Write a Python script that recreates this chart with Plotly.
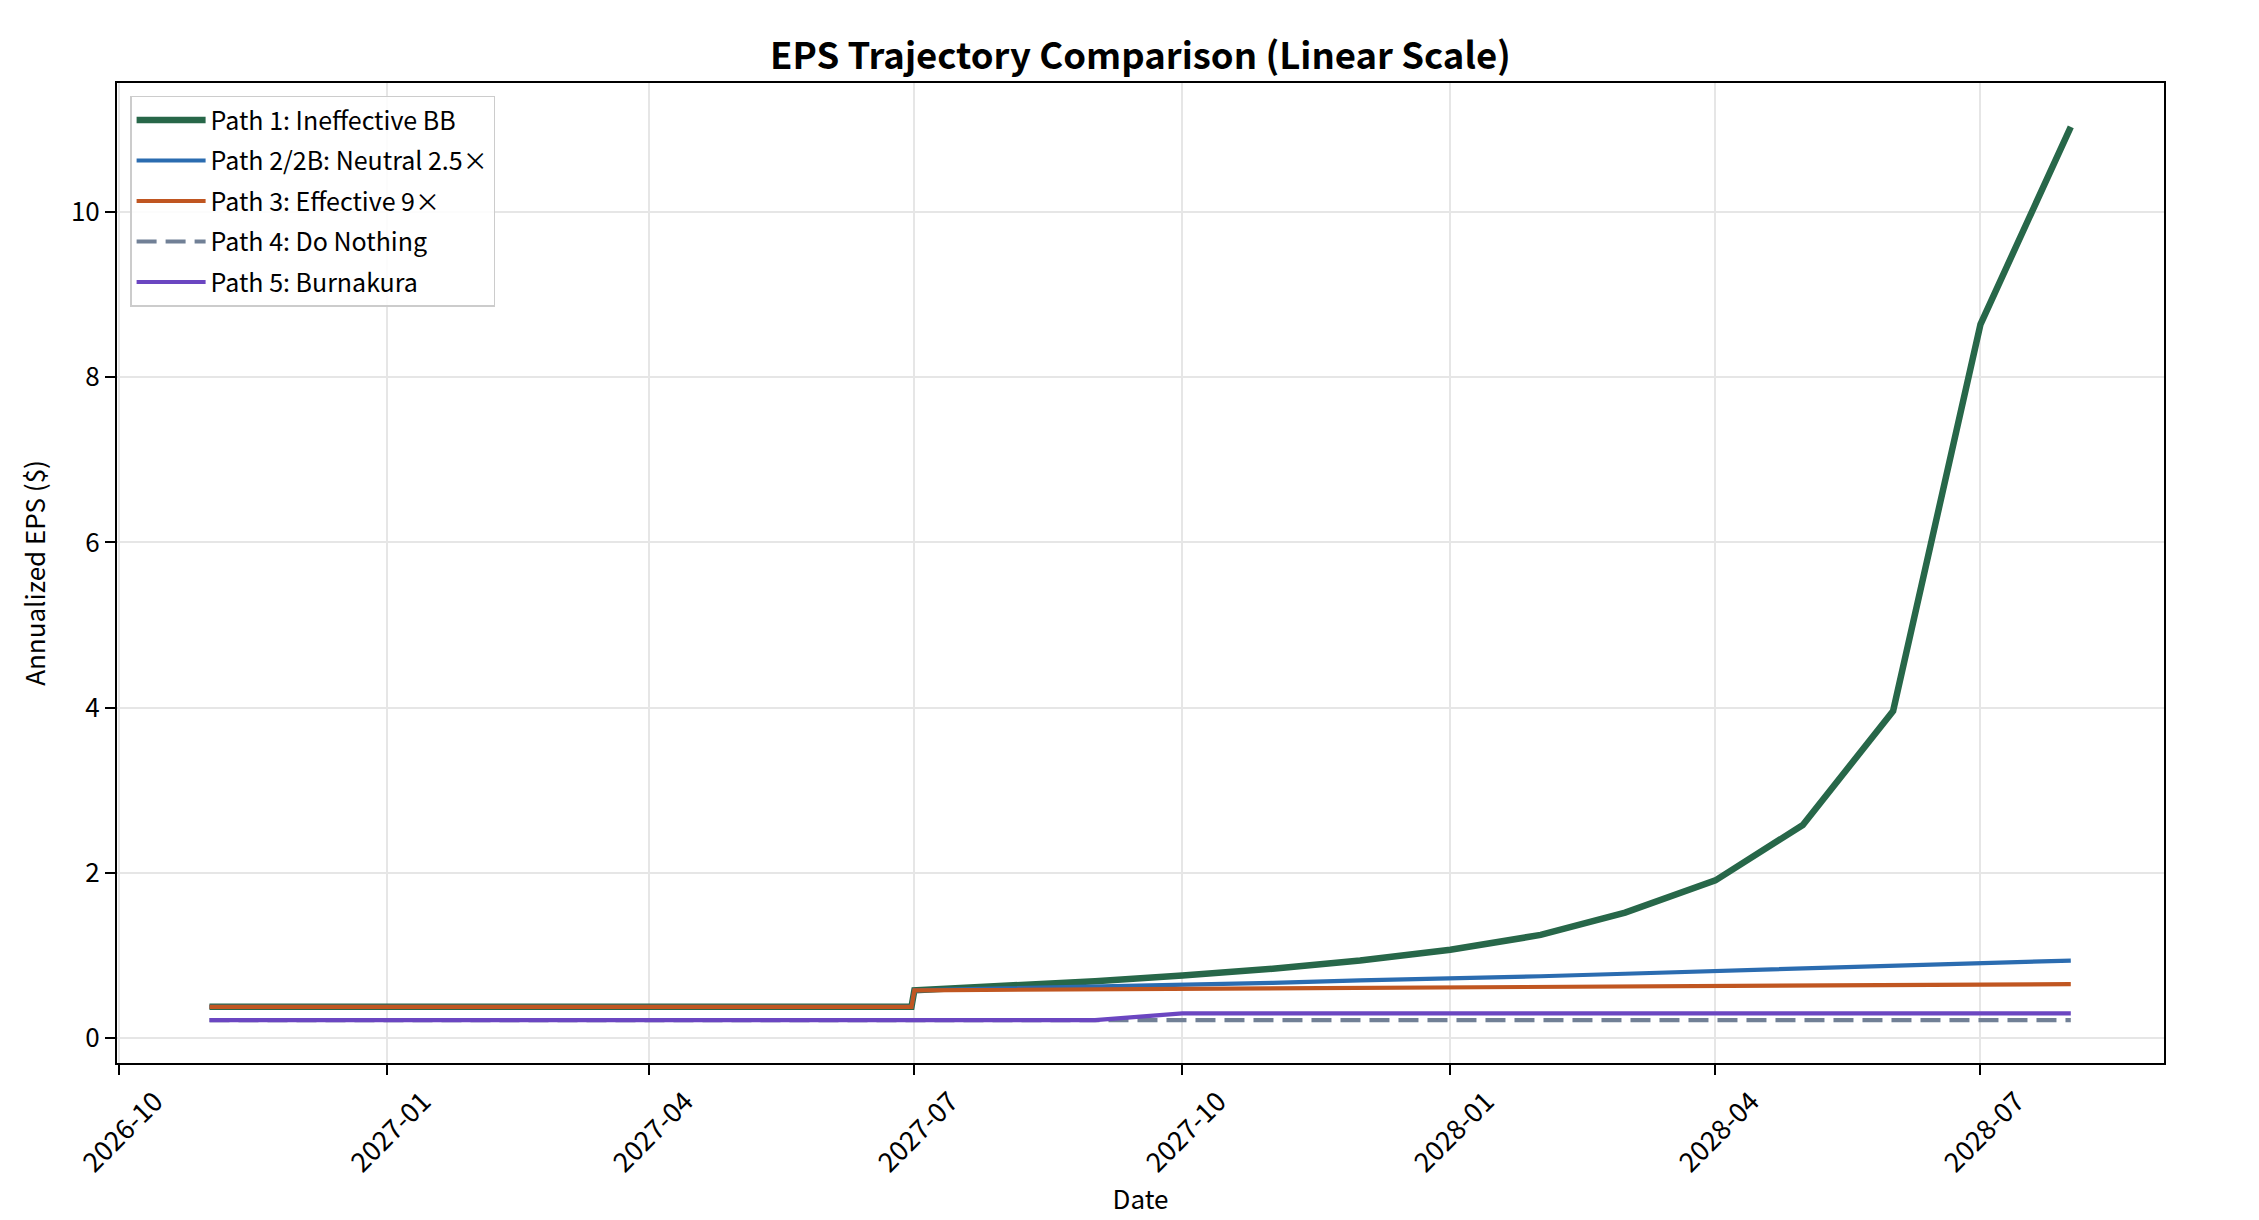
import plotly.graph_objects as go

# ---- data ----
dates = [
    "2026-11-01", "2026-12-01", "2027-01-01", "2027-02-01", "2027-03-01",
    "2027-04-01", "2027-05-01", "2027-06-01", "2027-06-30",
    "2027-07-01", "2027-08-01", "2027-09-01", "2027-10-01", "2027-11-01",
    "2027-12-01", "2028-01-01", "2028-02-01", "2028-03-01", "2028-04-01",
    "2028-05-01", "2028-06-01", "2028-07-01", "2028-08-01",
]

path1 = [0.38, 0.38, 0.38, 0.38, 0.38, 0.38, 0.38, 0.38, 0.38,
         0.58, 0.63, 0.69, 0.76, 0.84, 0.94, 1.07, 1.25, 1.52, 1.91,
         2.58, 3.96, 8.64, 11.03]
path2 = [0.38, 0.38, 0.38, 0.38, 0.38, 0.38, 0.38, 0.38, 0.38,
         0.58, 0.60, 0.62, 0.65, 0.67, 0.70, 0.72, 0.75, 0.78, 0.81,
         0.84, 0.87, 0.90, 0.94]
path3 = [0.38, 0.38, 0.38, 0.38, 0.38, 0.38, 0.38, 0.38, 0.38,
         0.58, 0.585, 0.59, 0.595, 0.60, 0.605, 0.61, 0.615, 0.62, 0.63,
         0.635, 0.64, 0.65, 0.655]
path4 = [0.22] * 23
path5 = [0.22, 0.22, 0.22, 0.22, 0.22, 0.22, 0.22, 0.22, 0.22,
         0.22, 0.22, 0.22, 0.30, 0.30, 0.30, 0.30, 0.30, 0.30, 0.30,
         0.30, 0.30, 0.30, 0.30]

names = ["Path 1: Ineffective BB", "Path 2/2B: Neutral 2.5×", "Path 3: Effective 9×",
         "Path 4: Do Nothing", "Path 5: Burnakura"]
series = [path1, path2, path3, path4, path5]
colors = ["#276749", "#2B6CB0", "#C05621", "#718096", "#6B46C1"]
widths = [6.5, 4.2, 4.2, 4.2, 4.2]
dashes = ["solid", "solid", "solid", "20px,9px", "solid"]

FONT = "Noto Sans CJK JP"

fig = go.Figure()
for i in range(len(series)):
    fig.add_trace(go.Scatter(
        x=dates, y=series[i], name=names[i], mode="lines",
        legendgroup="g%d" % i,
        line=dict(color=colors[i], width=widths[i], dash=dashes[i]),
    ))

axis_common = dict(
    showline=True, linecolor="black", linewidth=2, mirror=True,
    ticks="outside", ticklen=10, tickwidth=2, tickcolor="black",
    showgrid=True, gridcolor="#e6e6e6", gridwidth=1.5,
    zeroline=False,
)

fig.update_xaxes(
    axis_common,
    type="date", range=["2026-09-30 06:00", "2028-09-02"],
    tick0="2026-10-01", dtick="M3", tickformat="%Y-%m",
    tickangle=-45, ticklabelshift=36,
    tickfont=dict(size=27, color="black"),
    title=dict(text="Date", font=dict(size=26, color="black"), standoff=12),
)
fig.update_yaxes(
    axis_common,
    range=[-0.30, 11.56], tick0=0, dtick=2,
    tickfont=dict(size=26, color="black"),
    title=dict(text="Annualized EPS ($)", font=dict(size=26, color="black"), standoff=18),
)

fig.update_layout(
    width=2259, height=1220,
    paper_bgcolor="white", plot_bgcolor="white",
    font=dict(family=FONT, color="black"),
    margin=dict(l=117, r=95, t=83, b=157, autoexpand=False),
    title=dict(text="<b>EPS Trajectory Comparison (Linear Scale)</b>",
               font=dict(size=36.5, color="black"),
               x=0.5, xref="paper", xanchor="center",
               y=1 - 56 / 1220, yref="container", yanchor="middle"),
    legend=dict(x=0.0064, y=0.987, xanchor="left", yanchor="top",
                bgcolor="rgba(255,255,255,0.85)", bordercolor="#cccccc", borderwidth=1.5,
                font=dict(size=25, color="black"), tracegroupgap=5, itemwidth=69),
    showlegend=True,
)

# page body has a default 8px margin; remove it so the figure sits at the corner
fig.write_html("out.html", config={"displayModeBar": False},
               post_script="document.body.style.margin='0';")
